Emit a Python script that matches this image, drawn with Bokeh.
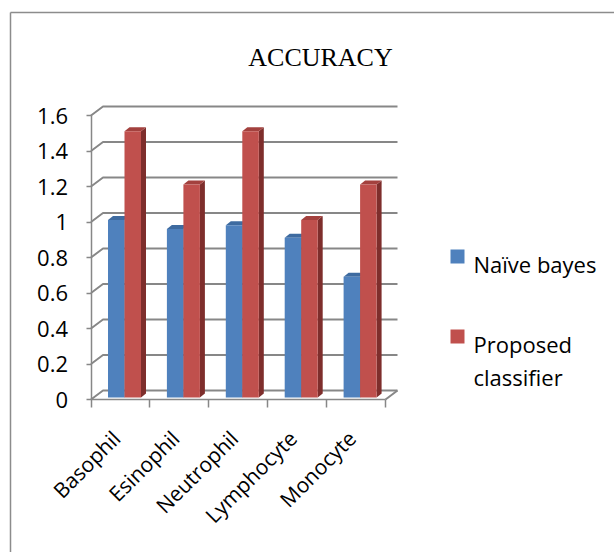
import math

from bokeh.core.properties import value
from bokeh.embed import file_html
from bokeh.models import FixedTicker, LinearAxis, Range1d
from bokeh.plotting import figure
from bokeh.resources import INLINE

# ---- data -------------------------------------------------------------
categories = ["Basophil", "Esinophil", "Neutrophil", "Lymphocyte", "Monocyte"]
naive_bayes = [1.0, 0.95, 0.97, 0.90, 0.68]
proposed = [1.5, 1.2, 1.5, 1.0, 1.2]
y_ticks = [0, 0.2, 0.4, 0.6, 0.8, 1.0, 1.2, 1.4, 1.6]
y_tick_labels = ["0", "0.2", "0.4", "0.6", "0.8", "1", "1.2", "1.4", "1.6"]
series_names = ["Naïve bayes", "Proposed classifier"]
title_text = "ACCURACY"

# ---- layout (pixels) ---------------------------------------------------
W, H = 614, 552
AXIS_X_PX = 90.5      # front value axis, from the left edge
ZERO_Y_PX = 399.0     # value 0 on the front plane, from the top edge
CAT_PX = 58.9         # width of one category slot
VAL_PX = 177.5        # pixels per value unit
WALL_DX, WALL_DY = 12.0, 9.0     # depth of the back wall
BAR_DX, BAR_DY = 5.0, 4.0        # depth of each column
BAR_OFF, BAR_W = 17.0, 16.5      # column offset inside a slot, column width
BAR_BASE = 2.0

def ux(px):
    return px / CAT_PX

def uy(px):
    return px / VAL_PX

def at_x(px):
    return (px - AXIS_X_PX) / CAT_PX

def at_y(px):
    return (ZERO_Y_PX - px) / VAL_PX

p = figure(
    width=W, height=H,
    x_range=Range1d(at_x(0), at_x(W)),
    y_range=Range1d(at_y(H), at_y(0)),
    x_axis_type=None, y_axis_type=None,
    toolbar_location=None, output_backend="svg",
    min_border=0,
)
p.outline_line_color = None
p.background_fill_color = "white"
p.border_fill_color = "white"

GRID = "#878787"
FONT_NAME = "Open Sans"
FONT = value(FONT_NAME)
n = len(categories)

# chart border (left and top edges)
p.multi_line(
    xs=[[at_x(10), at_x(10)], [at_x(10), at_x(W)]],
    ys=[[at_y(12), at_y(H)], [at_y(12), at_y(12)]],
    line_color="#8c8c8c", line_width=1.5,
)

# back wall gridlines with the diagonal on the side wall
wdx, wdy = ux(WALL_DX), uy(WALL_DY)
gx, gy = [], []
for t in y_ticks:
    gx.append([0, wdx, n + wdx])
    gy.append([t, t + wdy, t + wdy])
p.multi_line(xs=gx, ys=gy, line_color=GRID, line_width=2)
# right edge of the floor
p.line(x=[n, n + wdx], y=[0, wdy], line_color=GRID, line_width=2)

# ---- 3D columns ---------------------------------------------------------
bdx, bdy, base = ux(BAR_DX), uy(BAR_DY), uy(BAR_BASE)

def column(i, slot, v):
    left = i + ux(BAR_OFF) + slot * ux(BAR_W)
    right = left + ux(BAR_W)
    top = v + base
    front = dict(l=left, r=right, b=base, t=top)
    side_x = [right, right + bdx, right + bdx, right]
    side_y = [base, base + bdy, top + bdy, top]
    cap_x = [left, right, right + bdx, left + bdx]
    cap_y = [top, top, top + bdy, top + bdy]
    return front, (side_x, side_y), (cap_x, cap_y)

styles = [
    dict(front="#4F81BD", side="#385D8A", cap="#3E6BA0"),
    dict(front="#C0504D", side="#7E2E2C", cap="#A3413E"),
]

for slot, vals in enumerate([naive_bayes, proposed]):
    fronts, sides, caps = [], [], []
    for i, v in enumerate(vals):
        f, s, c = column(i, slot, v)
        fronts.append(f)
        sides.append(s)
        caps.append(c)
    st = styles[slot]
    p.patches(xs=[s[0] for s in sides], ys=[s[1] for s in sides],
              fill_color=st["side"], line_color=None)
    p.patches(xs=[c[0] for c in caps], ys=[c[1] for c in caps],
              fill_color=st["cap"], line_color=None)
    p.quad(left=[f["l"] for f in fronts], right=[f["r"] for f in fronts],
           bottom=[f["b"] for f in fronts], top=[f["t"] for f in fronts],
           fill_color=st["front"], line_color=None)

# ---- axes ---------------------------------------------------------------
yaxis = LinearAxis(
    fixed_location=0, bounds=(0, y_ticks[-1]),
    ticker=FixedTicker(ticks=y_ticks, minor_ticks=[]),
    major_label_overrides={t: s for t, s in zip(y_ticks, y_tick_labels)},
    axis_line_color=GRID, axis_line_width=1.5,
    major_tick_line_color=GRID, major_tick_line_width=1.5,
    major_tick_out=5, major_tick_in=0,
    major_label_standoff=18,
    major_label_text_font=FONT_NAME, major_label_text_font_size="22px",
    major_label_text_color="black",
)
p.add_layout(yaxis, "left")

# category names sit slightly left of each slot's centre
label_pos = [i + 0.43 for i in range(n)]
xaxis = LinearAxis(
    fixed_location=0, bounds=(0, n),
    ticker=FixedTicker(ticks=label_pos, minor_ticks=list(range(n + 1))),
    major_label_overrides={c: name for c, name in zip(label_pos, categories)},
    axis_line_color=GRID, axis_line_width=1.5,
    major_tick_line_color=None,
    minor_tick_line_color=GRID, minor_tick_line_width=1.5,
    minor_tick_out=8, minor_tick_in=0,
    major_label_orientation=math.pi / 4,
    major_label_standoff=27,
    major_label_text_font=FONT_NAME, major_label_text_font_size="21px",
    major_label_text_color="black",
)
p.add_layout(xaxis, "below")

# ---- title ---------------------------------------------------------------
p.text(x=[at_x(320)], y=[at_y(57)], text=[title_text],
       text_font=value("Liberation Serif"), text_font_size="26px",
       text_align="center", text_baseline="alphabetic", text_color="black")

# ---- legend ----------------------------------------------------------------
sq = 14
leg_x = 450
leg_rows = [249, 329]
p.quad(left=[at_x(leg_x)] * 2, right=[at_x(leg_x + sq)] * 2,
       top=[at_y(r) for r in leg_rows], bottom=[at_y(r + sq) for r in leg_rows],
       fill_color=[styles[0]["front"], styles[1]["front"]], line_color=None)
label_lines = [series_names[0]] + series_names[1].split(" ")
label_base = [263, 343, 376]
p.text(x=[at_x(473)] * 3, y=[at_y(b) for b in label_base], text=label_lines,
       text_font=FONT, text_font_size="22px", text_align="left",
       text_baseline="alphabetic", text_color="black")

open("out.html", "w").write(file_html(p, INLINE))
